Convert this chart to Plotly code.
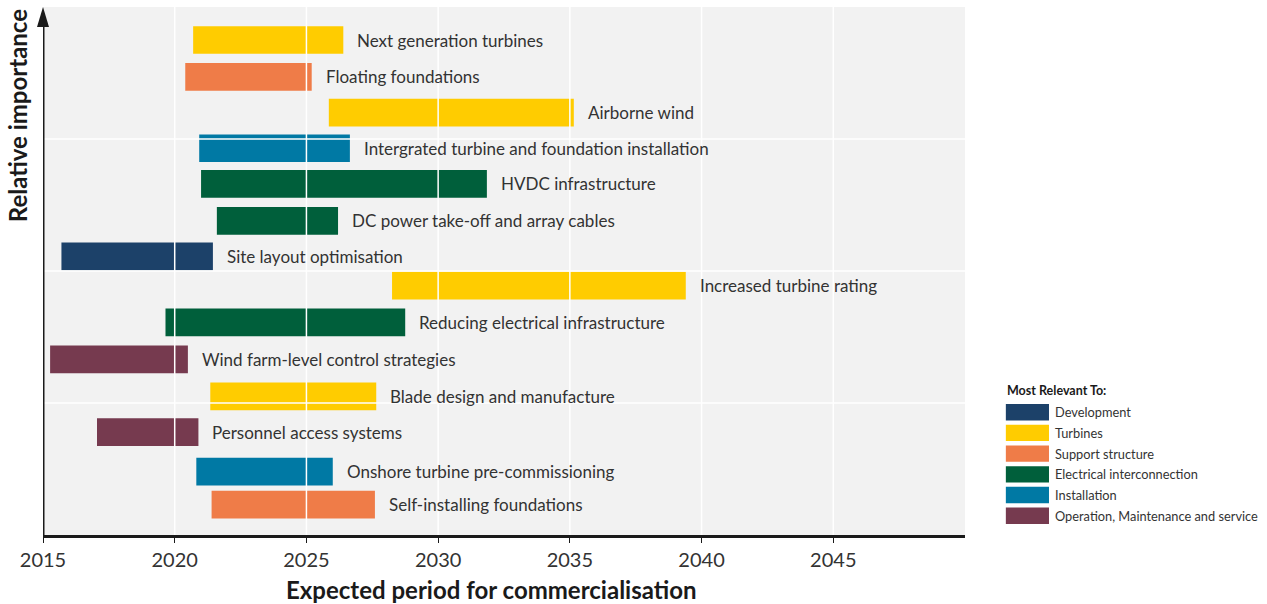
import plotly.graph_objects as go

# ---- data ----
technologies = [
    "Next generation turbines",
    "Floating foundations",
    "Airborne wind",
    "Intergrated turbine and foundation installation",
    "HVDC infrastructure",
    "DC power take-off and array cables",
    "Site layout optimisation",
    "Increased turbine rating",
    "Reducing electrical infrastructure",
    "Wind farm-level control strategies",
    "Blade design and manufacture",
    "Personnel access systems",
    "Onshore turbine pre-commissioning",
    "Self-installing foundations",
]
start_year = [2020.7, 2020.4, 2025.85, 2020.93, 2021.0, 2021.6, 2015.7,
              2028.25, 2019.65, 2015.27, 2021.35, 2017.05, 2020.82, 2021.4]
end_year = [2026.4, 2025.2, 2035.15, 2026.65, 2031.85, 2026.2, 2021.45,
            2039.4, 2028.75, 2020.5, 2027.65, 2020.9, 2026.0, 2027.6]
importance = [3.75, 3.47, 3.20, 2.93, 2.66, 2.38, 2.11,
              1.89, 1.61, 1.33, 1.05, 0.78, 0.48, 0.23]
relevant_to = [
    "Turbines", "Support structure", "Turbines", "Installation",
    "Electrical interconnection", "Electrical interconnection", "Development",
    "Turbines", "Electrical interconnection", "Operation, Maintenance and service",
    "Turbines", "Operation, Maintenance and service", "Installation", "Support structure",
]
groups = ["Development", "Turbines", "Support structure",
          "Electrical interconnection", "Installation",
          "Operation, Maintenance and service"]
group_colors = ["#1c4169", "#ffcc00", "#ef7c48", "#005f3b", "#0079a4", "#763a4f"]
x_ticks = [2015, 2020, 2025, 2030, 2035, 2040, 2045]
y_grid = [1, 2, 3]

color_of = dict(zip(groups, group_colors))

FONT = "Lato"
TXT = "#333333"
DARK = "#1a1a1a"

fig = go.Figure()
for g in groups:
    idx = [i for i, r in enumerate(relevant_to) if r == g]
    fig.add_trace(go.Bar(
        orientation="h",
        y=[importance[i] for i in idx],
        base=[start_year[i] for i in idx],
        x=[end_year[i] - start_year[i] for i in idx],
        width=0.21,
        marker=dict(color=color_of[g], line=dict(width=0)),
        name=g,
        showlegend=False,
        hoverinfo="skip",
    ))

annotations = []
for i, t in enumerate(technologies):
    annotations.append(dict(
        x=end_year[i], y=importance[i], xref="x", yref="y",
        text=t, showarrow=False, xanchor="left", yanchor="middle",
        xshift=12, font=dict(family=FONT, size=17, color=TXT),
    ))

# axis titles
annotations.append(dict(
    x=-0.0275, y=1.0, xref="paper", yref="paper", text="<b>Relative importance</b>",
    textangle=-90, showarrow=False, xanchor="center", yanchor="top",
    font=dict(family=FONT, size=24, color=DARK),
))
annotations.append(dict(
    x=0.486, y=-0.072, xref="paper", yref="paper",
    text="<b>Expected period for commercialisation</b>",
    showarrow=False, xanchor="center", yanchor="top",
    font=dict(family=FONT, size=24, color=DARK),
))

shapes = []
# white grid lines drawn above the bars
for v in x_ticks[1:]:
    shapes.append(dict(type="line", xref="x", yref="paper", x0=v, x1=v, y0=0, y1=1,
                       line=dict(color="white", width=1.5), layer="above"))
for v in y_grid:
    shapes.append(dict(type="line", xref="paper", yref="y", x0=0, x1=1, y0=v, y1=v,
                       line=dict(color="white", width=1.5), layer="above"))

# custom legend
lx0, lx1 = 1.0443, 1.0911   # paper coords
annotations.append(dict(
    x=lx0 - 0.001, y=0.273, xref="paper", yref="paper", text="<b>Most Relevant To:</b>",
    showarrow=False, xanchor="left", yanchor="middle",
    font=dict(family=FONT, size=12.5, color=DARK),
))
row_top = 0.248
row_pitch = 0.0392
row_h = 0.031
for k, g in enumerate(groups):
    yt = row_top - k * row_pitch
    shapes.append(dict(type="rect", xref="paper", yref="paper",
                       x0=lx0, x1=lx1, y0=yt - row_h, y1=yt,
                       fillcolor=color_of[g], line=dict(width=0)))
    annotations.append(dict(
        x=lx1 + 0.004, y=yt - row_h / 2, xref="paper", yref="paper", text=g,
        showarrow=False, xanchor="left", yanchor="middle",
        font=dict(family=FONT, size=12.8, color=TXT),
    ))

# vertical axis with arrow
shapes.append(dict(type="line", xref="x", yref="paper", x0=2015, x1=2015,
                   y0=0, y1=0.97, line=dict(color=DARK, width=3), layer="above"))
shapes.append(dict(type="path", xref="paper", yref="paper",
                   path="M -0.0065 0.962 L 0 1.0 L 0.0065 0.962 Z",
                   fillcolor=DARK, line=dict(width=0), layer="above"))

fig.update_layout(
    width=1267, height=604,
    margin=dict(l=43, r=302, t=7, b=69),
    paper_bgcolor="white",
    plot_bgcolor="#f2f2f2",
    barmode="overlay",
    shapes=shapes,
    annotations=annotations,
    font=dict(family=FONT, color=TXT),
    xaxis=dict(
        range=[2015, 2050], tickvals=x_ticks, ticktext=[str(v) for v in x_ticks],
        showgrid=False,
        showline=True, linecolor=DARK, linewidth=2.5,
        ticks="outside", ticklen=5, tickcolor=DARK, tickwidth=1,
        tickfont=dict(family=FONT, size=20, color=TXT),
        zeroline=False, layer="above traces",
    ),
    yaxis=dict(
        range=[0, 4], showticklabels=False,
        showgrid=False, showline=False, zeroline=False,
    ),
)

fig.write_html("out.html", config={"displayModeBar": False},
               post_script="document.body.style.margin='0';document.body.style.overflow='hidden';")
